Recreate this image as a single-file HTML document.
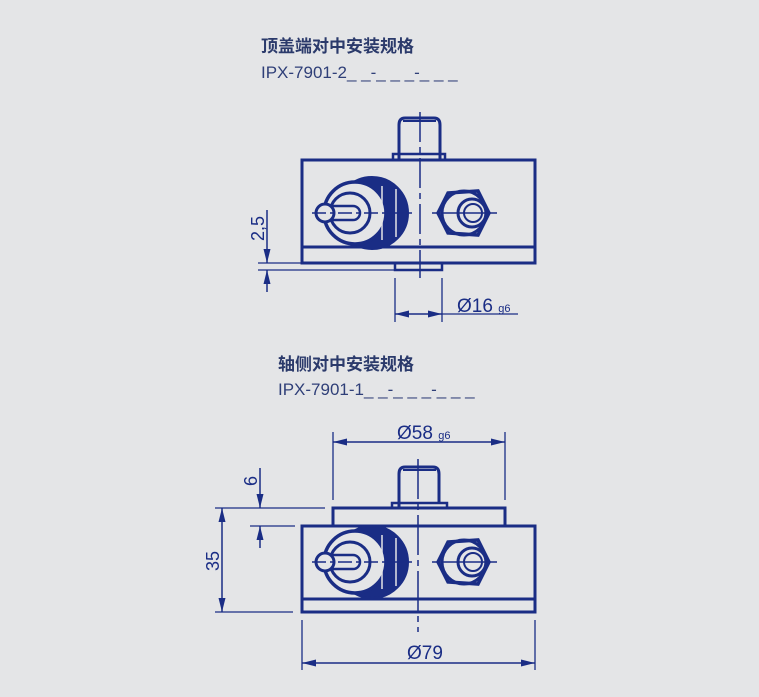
<!DOCTYPE html>
<html><head><meta charset="utf-8"><style>
html,body{margin:0;padding:0;background:#e4e5e7;}
svg{display:block}
text{font-family:"Liberation Sans","Noto Sans CJK SC",sans-serif;}
</style></head><body>
<svg width="759" height="697" viewBox="0 0 759 697" xmlns="http://www.w3.org/2000/svg">
<defs>
<g id="comp" stroke="#1a2d85" fill="none">
  <circle cx="20" cy="0" r="36" fill="#1a2d85" stroke-width="2"/>
  <circle cx="3" cy="0" r="31" fill="#e4e5e7" stroke-width="3.5"/>
  <circle cx="-2" cy="0" r="20" stroke-width="3"/>
  <line x1="30" y1="-27" x2="30" y2="27" stroke="#e4e5e7" stroke-width="1.5"/>
  <line x1="44" y1="-24" x2="44" y2="24" stroke="#e4e5e7" stroke-width="1.5"/>
  <rect x="-27" y="-7" width="35" height="14" rx="7" stroke-width="2.5"/>
  <circle cx="-27" cy="0" r="9" fill="#e4e5e7" stroke-width="3"/>
  <line x1="-40" y1="0" x2="60" y2="0" stroke-width="1.5" stroke-dasharray="14,4,4,4"/>
  <path d="M96,-20 L126,-22 L137,0 L126,22 L96,20 L86,0 Z" stroke-width="3.5"/>
  <circle cx="112" cy="0" r="22" stroke-width="3"/>
  <circle cx="120" cy="0" r="14" stroke-width="3"/>
  <circle cx="121" cy="0" r="9" stroke-width="2"/>
  <line x1="80" y1="0" x2="145" y2="0" stroke-width="1.5"/>
</g>
<marker id="a" viewBox="0 0 14 7" refX="14" refY="3.5" markerWidth="14" markerHeight="7" orient="auto-start-reverse" markerUnits="userSpaceOnUse"><path d="M0,0 L14,3.5 L0,7 Z" fill="#1a2d85"/></marker>
</defs>

<g fill="#2b3a6b">
<text x="261" y="52" font-size="17" font-weight="bold">顶盖端对中安装规格</text>
<text x="261" y="78" font-size="17" fill="#2f3f78">IPX-7901-2_ _-_ _ _-_ _ _</text>
<text x="278" y="370" font-size="17" font-weight="bold">轴侧对中安装规格</text>
<text x="278" y="395" font-size="17" fill="#2f3f78">IPX-7901-1_ _-_ _ _-_ _ _</text>
</g>

<g stroke="#1a2d85" fill="none">
<path d="M399,160 L399,125 Q399,118 405,118 L434,118 Q440,118 440,125 L440,160" stroke-width="3"/>
<line x1="403" y1="121" x2="436" y2="121" stroke-width="2"/>
<rect x="393" y="154" width="52" height="6" stroke-width="2.5"/>
<rect x="302" y="160" width="233" height="103" stroke-width="3"/>
<line x1="302" y1="247" x2="535" y2="247" stroke-width="3"/>
<rect x="395" y="263" width="47" height="7" stroke-width="2.5"/>
<use href="#comp" x="352" y="213"/>
<line x1="420" y1="112" x2="420" y2="278" stroke-width="1.5" stroke-dasharray="30,5,6,5"/>
<line x1="258" y1="263" x2="302" y2="263" stroke-width="1.3"/>
<line x1="258" y1="270" x2="395" y2="270" stroke-width="1.3"/>
<line x1="267" y1="210" x2="267" y2="263" stroke-width="1.5" marker-end="url(#a)"/>
<line x1="267" y1="292" x2="267" y2="270" stroke-width="1.5" marker-end="url(#a)"/>
<line x1="395" y1="278" x2="395" y2="322" stroke-width="1.3"/>
<line x1="442" y1="278" x2="442" y2="322" stroke-width="1.3"/>
<line x1="395" y1="314" x2="442" y2="314" stroke-width="1.5" marker-start="url(#a)" marker-end="url(#a)"/>
<line x1="442" y1="314" x2="518" y2="314" stroke-width="1.3"/>

<path d="M399,508 L399,474 Q399,467 405,467 L433,467 Q439,467 439,474 L439,503" stroke-width="3"/>
<line x1="403" y1="470" x2="436" y2="470" stroke-width="2"/>
<rect x="392" y="503" width="55" height="5" stroke-width="2.5"/>
<rect x="333" y="508" width="172" height="18" stroke-width="3"/>
<rect x="302" y="526" width="233" height="86" stroke-width="3"/>
<line x1="302" y1="599" x2="535" y2="599" stroke-width="3"/>
<use href="#comp" x="352" y="562"/>
<line x1="418" y1="459" x2="418" y2="632" stroke-width="1.5" stroke-dasharray="40,5,6,5"/>
<line x1="333" y1="432" x2="333" y2="500" stroke-width="1.3"/>
<line x1="505" y1="432" x2="505" y2="500" stroke-width="1.3"/>
<line x1="333" y1="442" x2="505" y2="442" stroke-width="1.5" marker-start="url(#a)" marker-end="url(#a)"/>
<line x1="215" y1="508" x2="325" y2="508" stroke-width="1.3"/>
<line x1="250" y1="526" x2="295" y2="526" stroke-width="1.3"/>
<line x1="260" y1="468" x2="260" y2="508" stroke-width="1.5" marker-end="url(#a)"/>
<line x1="260" y1="548" x2="260" y2="526" stroke-width="1.5" marker-end="url(#a)"/>
<line x1="215" y1="612" x2="293" y2="612" stroke-width="1.3"/>
<line x1="222" y1="508" x2="222" y2="612" stroke-width="1.5" marker-start="url(#a)" marker-end="url(#a)"/>
<line x1="302" y1="620" x2="302" y2="670" stroke-width="1.3"/>
<line x1="535" y1="620" x2="535" y2="670" stroke-width="1.3"/>
<line x1="302" y1="663" x2="535" y2="663" stroke-width="1.5" marker-start="url(#a)" marker-end="url(#a)"/>
</g>

<g fill="#1a2d85">
<text x="264" y="241" font-size="18" transform="rotate(-90 264 241)">2,5</text>
<text x="457" y="312" font-size="19">Ø16 <tspan font-size="11">g6</tspan></text>
<text x="397" y="439" font-size="19">Ø58 <tspan font-size="11">g6</tspan></text>
<text x="257" y="486" font-size="18" transform="rotate(-90 257 486)">6</text>
<text x="219" y="571" font-size="18" transform="rotate(-90 219 571)">35</text>
<text x="407" y="659" font-size="19">Ø79</text>
</g>
</svg>
</body></html>
